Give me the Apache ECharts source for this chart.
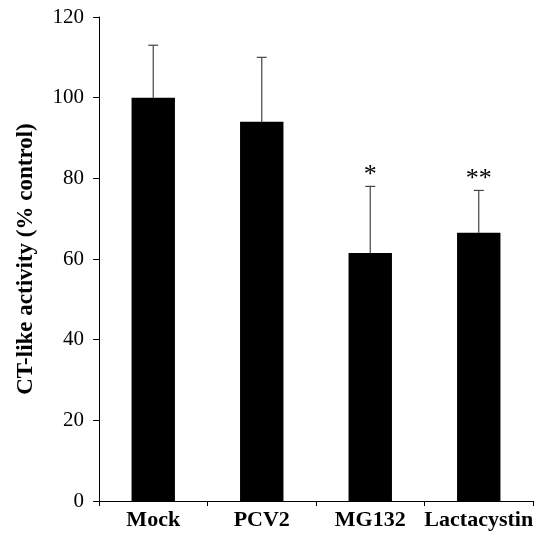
<!DOCTYPE html>
<html>
<head>
<meta charset="utf-8">
<script src="https://cdn.jsdelivr.net/npm/echarts@6/dist/echarts.min.js"></script>
<style>
  html, body { margin: 0; padding: 0; background: #fff; }
  #main { width: 539px; height: 537px; }
</style>
</head>
<body>
<div id="main"></div>
<script>
// values
var categories = ['Mock', 'PCV2', 'MG132', 'Lactacystin'];
var means = [100, 94, 61.5, 66.5];
var errUp = [13, 16, 16.5, 10.5];
var marks = ['', '', '*', '**'];
var yTicks = [0, 20, 40, 60, 80, 100, 120];

var serif = '"Liberation Serif", "Times New Roman", serif';

var errData = categories.map(function (c, i) {
  return [i, means[i], means[i] + errUp[i], marks[i]];
});

var chart = echarts.init(document.getElementById('main'));
chart.setOption({
  animation: false,
  grid: { left: 99, top: 17, right: 6, bottom: 36 },
  xAxis: {
    type: 'category',
    data: categories,
    axisLine: { lineStyle: { color: '#000', width: 1 } },
    axisTick: { show: true, interval: 0, length: 5, lineStyle: { color: '#000' } },
    axisLabel: {
      interval: 0, color: '#000', fontFamily: serif, fontWeight: 'bold', fontSize: 22, margin: 8
    }
  },
  yAxis: {
    type: 'value',
    min: yTicks[0],
    max: yTicks[yTicks.length - 1],
    interval: 20,
    name: 'CT-like activity (% control)',
    nameLocation: 'middle',
    nameGap: 61,
    nameTextStyle: { color: '#000', fontFamily: serif, fontWeight: 'bold', fontSize: 23 },
    axisLine: { show: true, lineStyle: { color: '#000', width: 1 } },
    axisTick: { show: true, length: 6, lineStyle: { color: '#000' } },
    splitLine: { show: false },
    axisLabel: { color: '#000', fontFamily: serif, fontSize: 21, margin: 15 }
  },
  series: [
    {
      type: 'bar',
      data: means,
      barWidth: '40%',
      itemStyle: { color: '#000' }
    },
    {
      type: 'custom',
      data: errData,
      z: 1,
      renderItem: function (params, api) {
        var i = api.value(0);
        var base = api.coord([i, api.value(1)]);
        var top = api.coord([i, api.value(2)]);
        var cap = 5;
        var style = { stroke: '#444', lineWidth: 1.2 };
        var children = [
          { type: 'line', shape: { x1: top[0], y1: base[1], x2: top[0], y2: top[1] }, style: style },
          { type: 'line', shape: { x1: top[0] - cap, y1: top[1], x2: top[0] + cap, y2: top[1] }, style: style }
        ];
        var mark = errData[params.dataIndex][3];
        if (mark) {
          children.push({
            type: 'text',
            x: top[0],
            y: top[1] + 2,
            style: {
              text: mark, fill: '#000', font: '26px ' + serif,
              align: 'center', verticalAlign: 'bottom'
            }
          });
        }
        return { type: 'group', children: children };
      }
    }
  ]
});
</script>
</body>
</html>
